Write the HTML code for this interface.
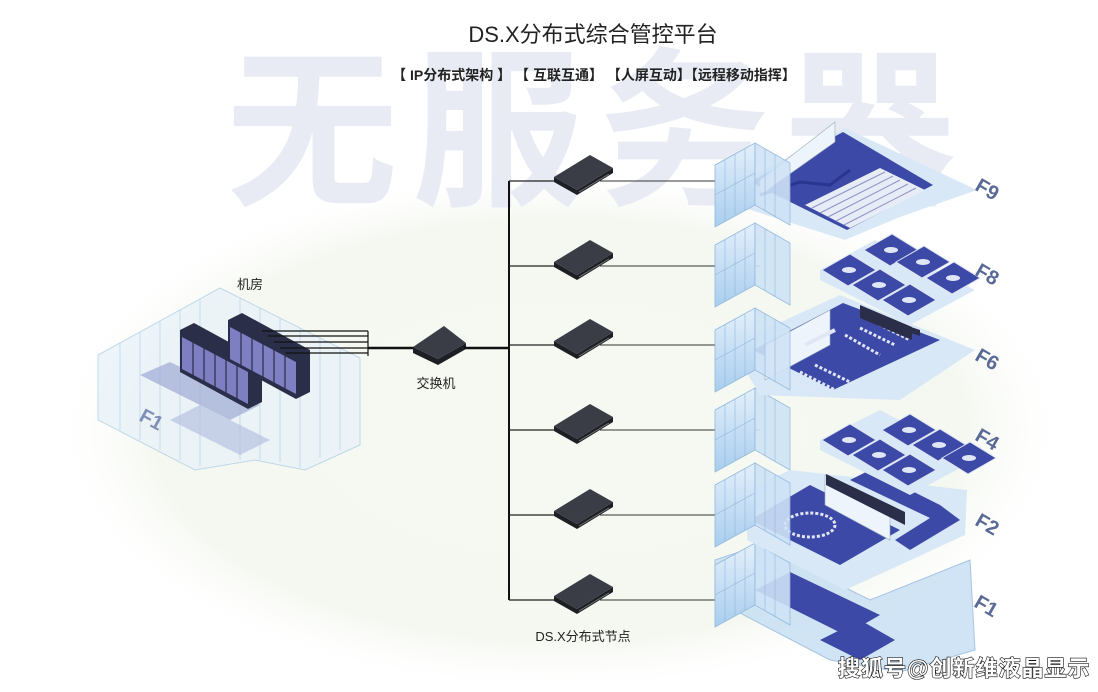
<!DOCTYPE html>
<html><head><meta charset="utf-8"><style>
html,body{margin:0;padding:0;background:#fff;}
svg{display:block;font-family:"Liberation Sans","Noto Sans CJK SC",sans-serif;}
</style></head><body>
<svg width="1098" height="692" viewBox="0 0 1098 692" xmlns="http://www.w3.org/2000/svg">
<defs>
<radialGradient id="blob" cx="0.5" cy="0.5" r="0.5">
<stop offset="0" stop-color="#f6f9f2"/><stop offset="0.8" stop-color="#f5f8f1"/><stop offset="1" stop-color="#fff" stop-opacity="0"/>
</radialGradient>
<linearGradient id="glass" x1="0" y1="0" x2="0" y2="1">
<stop offset="0" stop-color="#e4f0fb"/><stop offset="1" stop-color="#a9cdee"/>
</linearGradient>
<g id="dev">
<polygon points="-29,-1 -6,12 30,-10 30,-5 -6,17 -29,4" fill="#1e1f24"/>
<polygon points="-29,-1 7,-23 30,-10 -6,12" fill="#3a3d45"/>
<line x1="-4" y1="14" x2="26" y2="-4" stroke="#777" stroke-width="1"/>
</g>
<g id="wall">
<polygon points="0,0 40,-22 40,40 0,62" fill="url(#glass)" stroke="#8fb7dd" stroke-width="0.8"/>
<polygon points="40,-22 75,-2 75,60 40,40" fill="#cfe3f6" stroke="#8fb7dd" stroke-width="0.8" opacity="0.9"/>
<g stroke="#8fb7dd" stroke-width="0.6">
<line x1="10" y1="-5" x2="10" y2="56"/><line x1="20" y1="-11" x2="20" y2="50"/><line x1="30" y1="-16" x2="30" y2="45"/>
<line x1="50" y1="-16" x2="50" y2="46"/><line x1="60" y1="-11" x2="60" y2="52"/>
<line x1="0" y1="30" x2="40" y2="8"/>
</g>
</g>
<g id="room">
<polygon points="-14,0 14,-16 40,0 12,16" fill="#3d49a6" stroke="#dfe6f6" stroke-width="1"/>
<ellipse cx="13" cy="0" rx="7" ry="3" fill="#dfe6f6"/>
</g>
</defs>

<ellipse cx="560" cy="430" rx="510" ry="265" fill="url(#blob)"/>

<!-- watermark big text -->
<text x="598" y="192" font-size="172" font-weight="bold" fill="#e8ebf4" text-anchor="middle" letter-spacing="14">无服务器</text>

<!-- title -->
<text x="593" y="42" font-size="22" fill="#222" text-anchor="middle">DS.X分布式综合管控平台</text>
<text x="594" y="80" font-size="14" font-weight="bold" fill="#222" text-anchor="middle">【 IP分布式架构 】 【 互联互通】 【人屏互动】【远程移动指挥】</text>

<!-- server room -->
<text x="250" y="289" font-size="13" fill="#222" text-anchor="middle">机房</text>
<polygon points="98,355 220,288 360,358 360,445 305,470 255,460 195,470 98,420" fill="#e7f1f9" opacity="0.7" stroke="#a8cae6" stroke-width="1"/>
<g stroke="#b5d3ec" stroke-width="0.7">
<line x1="120" y1="343" x2="120" y2="430"/><line x1="140" y1="332" x2="140" y2="440"/><line x1="160" y1="321" x2="160" y2="450"/><line x1="180" y1="310" x2="180" y2="460"/><line x1="200" y1="299" x2="200" y2="466"/>
<line x1="240" y1="298" x2="240" y2="460"/><line x1="260" y1="308" x2="260" y2="460"/><line x1="280" y1="318" x2="280" y2="462"/><line x1="300" y1="328" x2="300" y2="468"/><line x1="320" y1="338" x2="320" y2="458"/><line x1="340" y1="348" x2="340" y2="450"/>
</g>
<polygon points="140,375 170,362 260,405 230,420" fill="#9ea9d6" opacity="0.7"/>
<polygon points="170,420 200,405 270,440 240,455" fill="#b7c0e0" opacity="0.7"/>
<g>
<polygon points="228,320 242,313 310,350 310,392 296,399 228,362" fill="#2b2e48"/>
<polygon points="180,330 194,323 262,360 262,402 248,409 180,372" fill="#2b2e48"/>
<g fill="#8c8ed8" opacity="0.85">
<polygon points="230,327 296,362 296,394 230,359"/>
<polygon points="182,337 248,372 248,404 182,369"/>
</g>
<g stroke="#2b2e48" stroke-width="1.2">
<line x1="241" y1="332" x2="241" y2="366"/><line x1="252" y1="338" x2="252" y2="372"/><line x1="263" y1="344" x2="263" y2="378"/><line x1="274" y1="350" x2="274" y2="384"/><line x1="285" y1="356" x2="285" y2="390"/>
<line x1="193" y1="342" x2="193" y2="376"/><line x1="204" y1="348" x2="204" y2="382"/><line x1="215" y1="354" x2="215" y2="388"/><line x1="226" y1="360" x2="226" y2="394"/><line x1="237" y1="366" x2="237" y2="400"/>
</g>
</g>
<text x="138" y="420" font-size="20" font-weight="bold" fill="#6677aa" transform="rotate(28 138 420)" opacity="0.8">F1</text>
<g stroke="#111" stroke-width="1.2">
<line x1="262" y1="331" x2="368" y2="331"/><line x1="268" y1="336" x2="368" y2="336"/><line x1="274" y1="342" x2="368" y2="342"/><line x1="280" y1="348" x2="368" y2="348"/><line x1="286" y1="353" x2="368" y2="353"/>
<line x1="368" y1="331" x2="368" y2="356"/>
</g>
<line x1="368" y1="348" x2="414" y2="348" stroke="#111" stroke-width="2.5"/>
<g transform="translate(438,343)">
<polygon points="-25,4 0,16 28,0 28,6 0,22 -25,10" fill="#1e1f24"/>
<polygon points="-25,4 6,-17 28,0 0,16" fill="#3a3d45"/>
</g>
<text x="436" y="388" font-size="13" fill="#222" text-anchor="middle">交换机</text>
<line x1="464" y1="348" x2="510" y2="348" stroke="#111" stroke-width="2.5"/>
<line x1="509" y1="181" x2="509" y2="600" stroke="#111" stroke-width="2"/>
<g stroke="#222" stroke-width="1.2">
<line x1="509" y1="181" x2="560" y2="181"/><line x1="509" y1="266" x2="560" y2="266"/><line x1="509" y1="345" x2="560" y2="345"/><line x1="509" y1="430" x2="560" y2="430"/><line x1="509" y1="515" x2="560" y2="515"/><line x1="509" y1="600" x2="560" y2="600"/>
</g>
<g stroke="#333" stroke-width="1">
<line x1="600" y1="181" x2="760" y2="181"/><line x1="600" y1="266" x2="760" y2="266"/><line x1="600" y1="345" x2="760" y2="345"/><line x1="600" y1="430" x2="760" y2="430"/><line x1="600" y1="515" x2="760" y2="515"/><line x1="600" y1="600" x2="760" y2="600"/>
</g>
<use href="#dev" x="583" y="178"/>
<use href="#dev" x="583" y="263"/>
<use href="#dev" x="583" y="342"/>
<use href="#dev" x="583" y="427"/>
<use href="#dev" x="583" y="512"/>
<use href="#dev" x="583" y="597"/>
<text x="583" y="641" font-size="13" fill="#222" text-anchor="middle">DS.X分布式节点</text>

<!-- F1 -->
<polygon points="715,560 760,545 870,600 970,560 975,650 900,672 830,660 715,600" fill="#c5def3" opacity="0.8" stroke="#8fb7dd"/>
<polygon points="755,590 790,572 880,615 845,635" fill="#3d49a6"/>
<polygon points="820,640 860,620 895,640 860,660" fill="#3d49a6"/>
<use href="#wall" x="715" y="565"/>
<text x="975" y="612" font-size="20" font-weight="bold" fill="#5a6a96" transform="rotate(30 985 605)">F1</text>
<!-- F2 -->
<polygon points="747,490 790,470 967,490 965,535 900,565 845,590 747,540" fill="#d9e8f7"/>
<polygon points="750,520 810,485 900,530 840,565" fill="#3d49a6"/>
<polygon points="850,480 870,470 940,505 960,520 910,550 895,540 930,518" fill="#3d49a6"/>
<polygon points="825,475 890,510 890,540 825,505" fill="#eef4fb" stroke="#9ab" stroke-width="0.6"/>
<polygon points="826,474 905,512 905,525 826,485" fill="#2b2e48"/>
<ellipse cx="810" cy="525" rx="25" ry="12" fill="none" stroke="#e0e6f6" stroke-width="3" stroke-dasharray="3 2"/>
<use href="#wall" x="715" y="485"/>
<text x="975" y="530" font-size="20" font-weight="bold" fill="#5a6a96" transform="rotate(30 985 525)">F2</text>
<!-- F4 -->
<polygon points="820,440 880,410 975,460 910,495 820,450" fill="#d9e8f7"/>
<use href="#room" x="836" y="440"/><use href="#room" x="866" y="455"/><use href="#room" x="896" y="470"/>
<use href="#room" x="896" y="430"/><use href="#room" x="926" y="445"/><use href="#room" x="956" y="458"/>
<use href="#wall" x="715" y="410"/>
<text x="975" y="445" font-size="20" font-weight="bold" fill="#5a6a96" transform="rotate(30 985 440)">F4</text>
<!-- F6 -->
<polygon points="730,345 840,295 975,350 900,400 760,395" fill="#d9e8f7"/>
<polygon points="753,350 843,303 940,340 833,390" fill="#3d49a6"/>
<polygon points="765,345 830,310 830,345 765,380" fill="#eef4fb" stroke="#9ab" stroke-width="0.6"/>
<g stroke="#e0e6f6" stroke-width="3" stroke-dasharray="3 2">
<line x1="790" y1="380" x2="820" y2="395"/><line x1="800" y1="372" x2="835" y2="390"/><line x1="815" y1="365" x2="850" y2="382"/>
<line x1="845" y1="335" x2="880" y2="355"/><line x1="860" y1="328" x2="895" y2="345"/><line x1="870" y1="320" x2="910" y2="340"/>
</g>
<line x1="805" y1="345" x2="835" y2="330" stroke="#e0e6f6" stroke-width="4"/>
<polygon points="860,310 920,330 920,336 860,316" fill="#2b2e48"/>
<use href="#wall" x="715" y="330"/>
<text x="975" y="365" font-size="20" font-weight="bold" fill="#5a6a96" transform="rotate(30 985 360)">F6</text>
<!-- F8 -->
<polygon points="820,270 875,240 975,290 910,325 820,280" fill="#d9e8f7"/>
<use href="#room" x="836" y="270"/><use href="#room" x="866" y="285"/><use href="#room" x="896" y="300"/>
<use href="#room" x="878" y="250"/><use href="#room" x="910" y="262"/><use href="#room" x="940" y="278"/>
<polygon points="860,305 912,327 912,340 860,318" fill="#2b2e48"/>
<use href="#wall" x="715" y="245"/>
<text x="975" y="280" font-size="20" font-weight="bold" fill="#5a6a96" transform="rotate(30 985 275)">F8</text>
<!-- F9 -->
<polygon points="735,185 845,128 977,190 900,217 845,240 735,205" fill="#d9e8f7"/>
<polygon points="750,182 843,132 933,185 847,230" fill="#3d49a6"/>
<polygon points="760,180 835,122 835,142 760,195" fill="#eef4fb" stroke="#9ab" stroke-width="0.6"/>
<polygon points="805,205 880,168 925,190 850,228" fill="#e8ecf6"/>
<g stroke="#8a92c8" stroke-width="1">
<line x1="812" y1="208" x2="885" y2="172"/><line x1="820" y1="213" x2="893" y2="176"/><line x1="828" y1="217" x2="900" y2="180"/><line x1="836" y1="221" x2="908" y2="184"/><line x1="844" y1="225" x2="916" y2="188"/>
</g>
<polyline points="760,195 800,182 830,185 850,170" fill="none" stroke="#2a3590" stroke-width="3"/>
<use href="#wall" x="715" y="165"/>
<text x="975" y="195" font-size="20" font-weight="bold" fill="#5a6a96" transform="rotate(30 985 190)">F9</text>

<text x="838" y="676" font-size="22" font-weight="bold" fill="#fff" stroke="#111" stroke-width="1.2" paint-order="stroke" letter-spacing="1">搜狐号@创新维液晶显示</text>
</svg>
</body></html>
